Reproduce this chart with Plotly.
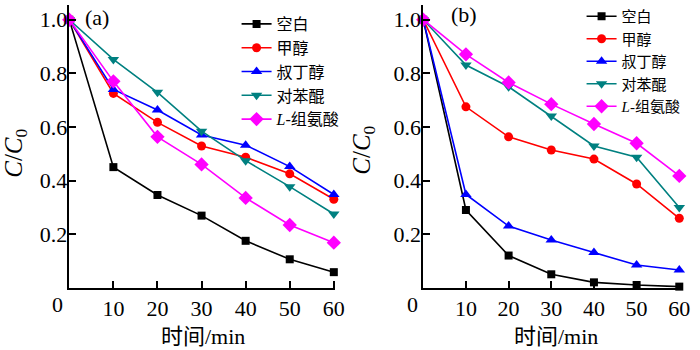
import plotly.graph_objects as go

time = [0, 10, 20, 30, 40, 50, 60]
names = ["空白", "甲醇", "叔丁醇", "对苯醌", "<i>L</i>-组氨酸"]

# panel (a)
a_blank = [1.0, 0.45, 0.346, 0.269, 0.175, 0.106, 0.058]
a_methanol = [1.0, 0.725, 0.617, 0.529, 0.487, 0.425, 0.33]
a_tba = [1.0, 0.74, 0.663, 0.57, 0.532, 0.452, 0.348]
a_bq = [1.0, 0.852, 0.729, 0.584, 0.474, 0.377, 0.275]
a_his = [1.0, 0.77, 0.563, 0.46, 0.335, 0.234, 0.168]

# panel (b)
b_blank = [1.0, 0.29, 0.12, 0.05, 0.02, 0.01, 0.004]
b_methanol = [1.0, 0.675, 0.563, 0.514, 0.48, 0.387, 0.259]
b_tba = [1.0, 0.348, 0.23, 0.178, 0.131, 0.085, 0.066]
b_bq = [1.0, 0.831, 0.75, 0.641, 0.529, 0.487, 0.299]
b_his = [1.0, 0.871, 0.766, 0.685, 0.611, 0.539, 0.417]

x_ticks = [10, 20, 30, 40, 50, 60]
y_ticks = [0.2, 0.4, 0.6, 0.8, 1.0]

colors = ["#000000", "#FF0000", "#0000FF", "#008080", "#FF00FF"]
symbols = ["square", "circle", "triangle-up", "triangle-down", "diamond"]
msizes = [8, 9, 10, 10, 11]

FONT = "Liberation Serif, Noto Sans CJK SC, serif"
LEGFONT = "Liberation Serif, Noto Sans CJK SC, serif"

fig = go.Figure()
panels = [
    ([a_blank, a_methanol, a_tba, a_bq, a_his], "x", "y", "legend"),
    ([b_blank, b_methanol, b_tba, b_bq, b_his], "x2", "y2", "legend2"),
]
for series, xa, ya, leg in panels:
    for i, vals in enumerate(series):
        fig.add_trace(go.Scatter(
            x=time, y=vals, name=names[i], mode="lines+markers",
            xaxis=xa, yaxis=ya, legend=leg, cliponaxis=False,
            line=dict(color=colors[i], width=1.6),
            marker=dict(symbol=symbols[i], size=msizes[i], color=colors[i]),
        ))

W, H = 700, 350
def px(x):
    return x / W
def py(y):
    return 1 - y / H

axis_common = dict(
    showline=True, linecolor="black", linewidth=1.5, ticks="inside",
    ticklen=7, tickwidth=1.5, tickcolor="black", showgrid=False, zeroline=False,
    tickfont=dict(family=FONT, size=22, color="black"),
)

y_dom = [py(287.7), py(5)]
fig.update_layout(
    width=W, height=H, margin=dict(l=0, r=0, t=0, b=0),
    paper_bgcolor="white", plot_bgcolor="white", showlegend=True,
    xaxis=dict(domain=[px(70.3), px(340)], range=[0, 60.3], anchor="y",
               tickvals=x_ticks, **axis_common),
    yaxis=dict(domain=y_dom, range=[0, 1.055], anchor="x", ticklabelstandoff=-4,
               tickvals=y_ticks, tickformat=".1f", **axis_common),
    xaxis2=dict(domain=[px(429.4), px(690)], range=[0, 60.2], anchor="y2",
                tickvals=x_ticks, **axis_common),
    yaxis2=dict(domain=y_dom, range=[0, 1.055], anchor="x2", ticklabelstandoff=-4,
                tickvals=y_ticks, tickformat=".1f", **axis_common),
    legend=dict(x=px(240), y=py(7), xanchor="left", yanchor="top",
                bgcolor="rgba(0,0,0,0)", font=dict(family=LEGFONT, size=16, color="black"),
                tracegroupgap=0, itemwidth=30),
    legend2=dict(x=px(590), y=py(0), xanchor="left", yanchor="top",
                 bgcolor="rgba(0,0,0,0)", font=dict(family=LEGFONT, size=15, color="black"),
                 tracegroupgap=0, itemwidth=30),
)

def ann(text, x, y, size, angle=0):
    return dict(text=text, x=px(x), y=py(y), xref="paper", yref="paper",
                xanchor="center", yanchor="middle", showarrow=False, textangle=angle,
                font=dict(family=FONT, size=size, color="black"))

annotations = [
    ann("(a)", 98, 17, 22),
    ann("(b)", 471, 15, 22),
    ann("0", 58, 304, 22),
    ann("0", 418, 304, 22),
    ann("<i>C</i>/<i>C</i><sub>0</sub>", 15, 153, 25, -90),
    ann("<i>C</i>/<i>C</i><sub>0</sub>", 368, 150, 25, -90),
    ann("时间/min", 206, 336, 22),
    ann("时间/min", 564, 336, 22),
]
fig.update_layout(annotations=annotations)

fig.write_html("out.html")
